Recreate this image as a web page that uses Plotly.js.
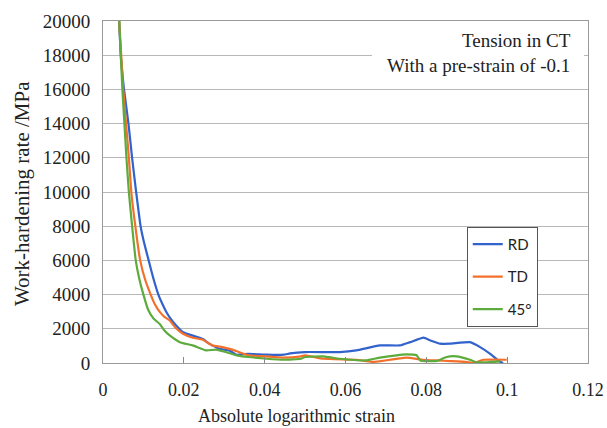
<!DOCTYPE html>
<html>
<head>
<meta charset="utf-8">
<script src="https://cdn.plot.ly/plotly-3.0.1.min.js"></script>
<style>html,body{margin:0;padding:0;background:#fff;}#chart{width:607px;height:428px;}</style>
</head>
<body>
<div id="chart"></div>
<script>
// Data
const seriesNames = ["RD", "TD", "45°"];
const strainRD = [0.0040,0.0044,0.0052,0.0063,0.0072,0.0082,0.0093,0.0102,0.0113,0.0124,0.0137,0.0147,0.0157,0.0170,0.0181,0.0198,0.0222,0.0247,0.0263,0.0288,0.0312,0.0330,0.0360,0.0405,0.0447,0.0463,0.0500,0.0586,0.0627,0.0685,0.0735,0.0760,0.0793,0.0810,0.0834,0.0859,0.0908,0.0933,0.0958,0.0983,0.0990];
const rateRD   = [20000,18000,16000,14000,12000,10000,8000,7000,6000,5000,4000,3450,2970,2500,2190,1800,1600,1400,1130,830,740,485,540,485,485,560,640,640,740,1030,1030,1220,1480,1320,1130,1130,1220,930,540,60,0];
const strainTD = [0.0040,0.0050,0.0057,0.0064,0.0070,0.0080,0.0092,0.0104,0.0118,0.0128,0.0140,0.0152,0.0165,0.0180,0.0198,0.0222,0.0247,0.0270,0.0296,0.0320,0.0336,0.0360,0.0400,0.0447,0.0490,0.0500,0.0545,0.0627,0.0668,0.0710,0.0750,0.0793,0.0826,0.0859,0.0900,0.0917,0.0941,0.0999];
const rateTD   = [20000,16000,14000,12000,10000,8000,6000,4900,4000,3450,3000,2700,2490,2050,1710,1480,1360,1030,930,780,640,450,390,310,390,450,250,190,60,190,310,190,150,115,60,0,190,190];
const strain45 = [0.0040,0.0048,0.0053,0.0058,0.0064,0.0072,0.0081,0.0090,0.0100,0.0112,0.0125,0.0140,0.0152,0.0165,0.0190,0.0222,0.0255,0.0280,0.0304,0.0330,0.0360,0.0405,0.0447,0.0490,0.0500,0.0545,0.0586,0.0650,0.0685,0.0726,0.0750,0.0776,0.0785,0.0826,0.0850,0.0875,0.0908,0.0925,0.0958,0.0983];
const rate45   = [20000,16000,14000,12000,10000,8000,6000,4900,4000,3100,2600,2290,1900,1610,1220,1030,740,780,640,450,350,250,190,250,350,390,250,150,310,450,500,450,150,115,350,390,190,40,60,100];
const xTickVals = [0,0.02,0.04,0.06,0.08,0.1,0.12];
const xTickText = ["0","0.02","0.04","0.06","0.08","0.1","0.12"];
const colors = ["#3262cc", "#f2702c", "#5dab3c"];

const serif = "Liberation Serif";
const xs = [strainRD, strainTD, strain45];
const ys = [rateRD, rateTD, rate45];
const traces = seriesNames.map((n, i) => ({
  x: xs[i], y: ys[i], name: n, type: "scatter", mode: "lines",
  legendgroup: "g" + i,
  line: {color: colors[i], width: 2.2, shape: "spline", smoothing: 0.4}
}));

const layout = {
  width: 607, height: 428,
  margin: {l: 103, r: 19, t: 21, b: 65},
  paper_bgcolor: "#fff", plot_bgcolor: "#fff",
  font: {family: serif, color: "#222"},
  showlegend: true,
  legend: {
    x: 0.75, y: 0.398, xanchor: "left", yanchor: "top",
    bgcolor: "#fff", bordercolor: "#555", borderwidth: 1,
    font: {family: "Lato", size: 15, color: "#222"},
    tracegroupgap: 10
  },
  xaxis: {
    range: [0, 0.12], tickvals: xTickVals, ticktext: xTickText,
    ticks: "inside", ticklen: 6, tickcolor: "#888",
    showgrid: false, zeroline: false,
    showline: true, linecolor: "#999", linewidth: 1, mirror: true,
    ticklabelstandoff: 10,
    tickfont: {family: serif, size: 18, color: "#222"}
  },
  yaxis: {
    range: [0, 20000], dtick: 2000, tickformat: "d",
    ticks: "", showgrid: true, gridcolor: "#b8b8b8", gridwidth: 1,
    zeroline: false, showline: true, linecolor: "#999", linewidth: 1, mirror: true,
    ticklabelstandoff: 8,
    tickfont: {family: serif, size: 19, color: "#222"}
  },
  shapes: [{
    type: "rect", xref: "paper", yref: "paper", layer: "above",
    x0: 0.5546, x1: 0.9918, y0: 0.810, y1: 0.997,
    fillcolor: "#fff", line: {width: 0}
  }],
  annotations: [
    {xref: "paper", yref: "paper", x: 0.969, y: 0.905, xanchor: "right", yanchor: "middle",
     align: "right", showarrow: false,
     text: "Tension in CT<br>With a pre-strain of -0.1",
     font: {family: serif, size: 19, color: "#222"}},
    {xref: "paper", yref: "paper", x: 0.398, y: -0.155, xanchor: "center", yanchor: "middle",
     showarrow: false, text: "Absolute logarithmic strain",
     font: {family: serif, size: 18, color: "#222"}},
    {xref: "paper", yref: "paper", x: -0.167, y: 0.494, xanchor: "center", yanchor: "middle",
     textangle: -90, showarrow: false, text: "Work-hardening rate /MPa",
     font: {family: serif, size: 21, color: "#222"}}
  ]
};

Plotly.newPlot("chart", traces, layout, {displayModeBar: false, staticPlot: true});
</script>
</body>
</html>
